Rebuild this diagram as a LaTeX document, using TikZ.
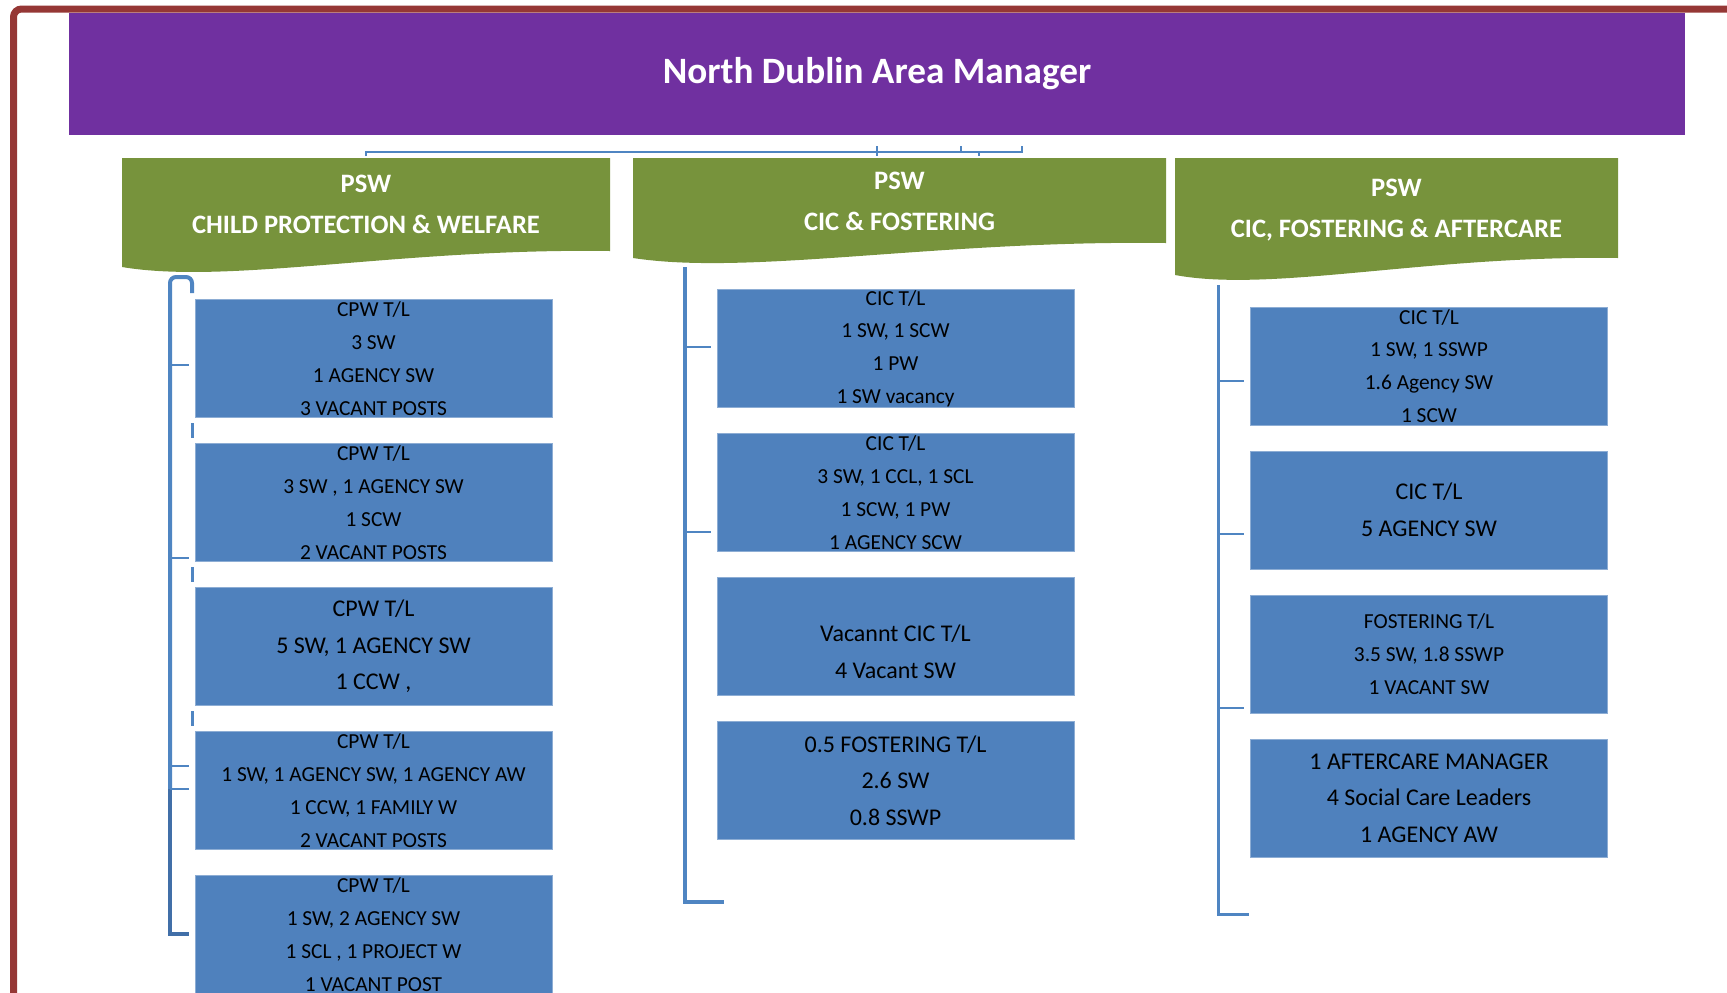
\documentclass[tikz,border=0pt]{standalone}
\usepackage{fontspec}
\setmainfont{Carlito}
\usetikzlibrary{positioning}

\definecolor{framered}{HTML}{953735}
\definecolor{mgrpurple}{HTML}{7030A0}
\definecolor{pswgreen}{HTML}{77933C}
\definecolor{teamblue}{HTML}{4F81BD}
\definecolor{linkblue}{HTML}{4F85C2}
\definecolor{linkdark}{HTML}{416FA8}

\begin{document}
\begin{tikzpicture}[x=0.5pt, y=-0.5pt,
  teambox/.style={fill=teamblue, draw=teamblue!65!white, line width=0.5pt,
    minimum width=178.5pt, minimum height=59pt, inner sep=0pt,
    align=center, text=black},
  small/.style={font=\fontsize{10.7}{16.4}\selectfont},
  large/.style={font=\fontsize{12}{18.3}\selectfont},
  pswtext/.style={text=white, align=center,
    font=\bfseries\fontsize{13.3}{20.5}\selectfont},
  spine/.style={linkblue, line width=2pt},
  tick/.style={linkblue, line width=1pt},
  node distance=12.5pt]

\useasboundingbox (0,0) rectangle (1727,992);

% --- Frame and manager ---
\draw[framered, line width=3.5pt, rounded corners=4pt]
  (13.5,1010) -- (13.5,9) -- (1740,9);
\node[fill=mgrpurple, minimum width=808pt, minimum height=61pt, inner sep=0pt,
  text=white, font=\bfseries\fontsize{18.6}{22}\selectfont]
  (mgr) at (877,74) {North Dublin Area Manager};

% Stubs of the connector under the manager
\coordinate (busW) at (366,152);
\coordinate (busE) at (1022,152);
\draw[tick] (366,156) -- (busW) -- (busE) -- (1022,146);
\draw[tick] (877,146) -- (877,156);
\draw[tick] (961,146) -- (961,152);
\draw[tick] (979,152) -- (979,156);

% --- PSW banners (left, right, bottom-left, bottom-right) ---
\foreach \l/\r/\yl/\yr in {122/610/267/251, 633/1166/258/243, 1175/1618/275/258}
  \fill[pswgreen] (\l,158) -- (\r,158) -- (\r,\yr)
    .. controls ({\l+0.57*(\r-\l)},{\yr-3}) and ({\l+0.22*(\r-\l)},{\yl+18}) ..
    (\l,\yl) -- cycle;

\node[pswtext] (pswcp)  at (366,204) {PSW\\CHILD PROTECTION \& WELFARE};
\node[pswtext] (pswcic) at (899.5,201) {PSW\\CIC \& FOSTERING};
\node[pswtext] (pswaft) at (1396.5,210) {PSW\\CIC, FOSTERING \& AFTERCARE};

% --- Left column: child protection teams ---
\node[teambox, small] (cp1) at (373.5,358.5)
  {CPW T/L\\3 SW\\1 AGENCY SW\\3 VACANT POSTS};
\node[teambox, small, below=of cp1] (cp2)
  {CPW T/L\\3 SW , 1 AGENCY SW\\1 SCW\\2 VACANT POSTS};
\node[teambox, large, below=of cp2] (cp3)
  {CPW T/L\\5 SW, 1 AGENCY SW\\1 CCW ,};
\node[teambox, small, below=of cp3] (cp4)
  {CPW T/L\\1 SW, 1 AGENCY SW, 1 AGENCY AW\\1 CCW, 1 FAMILY W\\2 VACANT POSTS};
\node[teambox, small, below=of cp4] (cp5)
  {CPW T/L\\1 SW, 2 AGENCY SW\\1 SCL , 1 PROJECT W\\1 VACANT POST};

\draw[spine, rounded corners=3pt] (192,293) -- (192,277) -- (170,277) -- (170,789);
\draw[spine, linkdark] (170,789) -- (170,934) -- (189,934);
\foreach \y in {365,558,766,789}
  \draw[tick] (170,\y) -- (189,\y);
\foreach \y in {423,567,711}
  \draw[tick, line width=1.5pt] (192,\y) -- (192,\y+15);

% --- Middle column: CIC and fostering teams ---
\node[teambox, small] (cic1) at (895.5,348.5)
  {CIC T/L\\1 SW, 1 SCW\\1 PW\\1 SW vacancy};
\node[teambox, small, below=of cic1] (cic2)
  {CIC T/L\\3 SW, 1 CCL, 1 SCL\\1 SCW, 1 PW\\1 AGENCY SCW};
\node[teambox, large, below=of cic2] (cic3)
  {\mbox{}\\[5pt]Vacannt CIC T/L\\4 Vacant SW};
\node[teambox, large, below=of cic3] (cic4)
  {0.5 FOSTERING T/L\\2.6 SW\\0.8 SSWP};

\draw[spine] (685,267) -- (685,902) -- (724,902);
\foreach \y in {347,532}
  \draw[tick] (685,\y) -- (711,\y);

% --- Right column: CIC, fostering and aftercare teams ---
\node[teambox, small] (aft1) at (1429,366)
  {CIC T/L\\1 SW, 1 SSWP\\1.6 Agency SW\\1 SCW};
\node[teambox, large, below=of aft1] (aft2)
  {CIC T/L\\5 AGENCY SW};
\node[teambox, small, below=of aft2] (aft3)
  {FOSTERING T/L\\3.5 SW, 1.8 SSWP\\1 VACANT SW};
\node[teambox, large, below=of aft3] (aft4)
  {1 AFTERCARE MANAGER\\4 Social Care Leaders\\1 AGENCY AW};

\draw[spine, line width=1.5pt] (1218,285) -- (1218,914) -- (1249,914);
\foreach \y in {381,534,708}
  \draw[tick] (1218,\y) -- (1244,\y);

\end{tikzpicture}
\end{document}
